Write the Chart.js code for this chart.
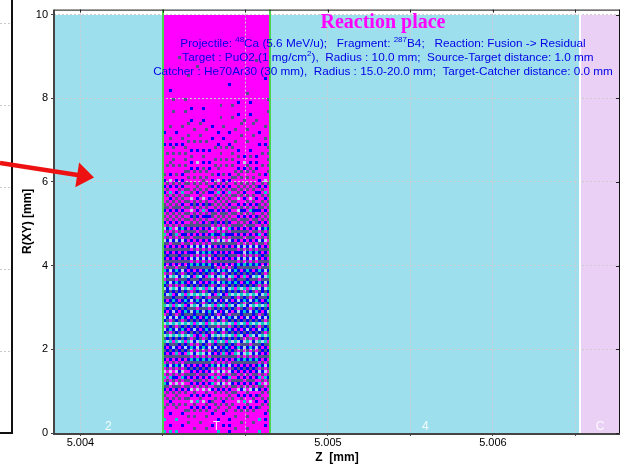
<!DOCTYPE html>
<html lang="en">
<head>
<meta charset="UTF-8">
<title>Reaction place</title>
<script src="https://cdn.jsdelivr.net/npm/chart.js"></script>
<style>
  body { margin: 0; background: #fff; }
  #wrap { width: 629px; height: 467px; }
</style>
</head>
<body>
<div id="wrap"><canvas id="chart" width="629" height="467"></canvas></div>
<script>
// Z axis [mm]
const zMin = 5.00334, zMax = 5.00677;
const zGrid = [5.0035, 5.004, 5.0045, 5.005, 5.0055, 5.006, 5.0065];
const zLabelAt = [5.0035, 5.005, 5.006];
const zLabels = ['5.004', '5.005', '5.006'];
// R axis [mm]
const rMax = 10.12;
const rTicks = [0, 2, 4, 6, 8, 10];

// materials along Z
const regionNames = ['2', 'T', '4', 'C'];
const regionStart = [5.00334, 5.00400, 5.00465, 5.00653];
const regionEnd   = [5.00400, 5.00465, 5.00653, 5.00677];
const regionTop = 10;

// stopped fragments in the target: share of bins at each count level, per 0.5 mm band of R
const rBandLow = [0, 0.5, 1, 1.5, 2, 2.5, 3, 3.5, 4, 4.5, 5, 5.5, 6, 6.5, 7, 7.5, 8, 8.5, 9, 9.5];
const lowCount  = [0.10, 0.24, 0.30, 0.28, 0.26, 0.25, 0.25, 0.28, 0.32, 0.35, 0.35, 0.32, 0.22, 0.15, 0.10, 0.05, 0.015, 0.01, 0.005, 0];
const midCount  = [0.03, 0.08, 0.18, 0.25, 0.30, 0.30, 0.32, 0.30, 0.25, 0.22, 0.17, 0.11, 0.05, 0.04, 0.02, 0.015, 0.005, 0, 0, 0];
const highCount = [0.01, 0.02, 0.05, 0.10, 0.13, 0.15, 0.14, 0.12, 0.08, 0.04, 0.02, 0.01, 0, 0, 0, 0, 0, 0, 0, 0];
const topCount  = [0, 0.02, 0.07, 0.12, 0.17, 0.17, 0.16, 0.14, 0.10, 0.06, 0.03, 0.015, 0.005, 0, 0, 0, 0, 0, 0, 0];

// styles
const regionColors = ['#9edfed', '#ff00ff', '#9edfed', '#ead0f4'];
const levelColors = ['#b4d2e6', '#00cccc', '#0000ff', '#52528c']; // top, high, mid, low
const zBins = 36, rBins = 140;
const bayer = [
  [0, 32, 8, 40, 2, 34, 10, 42],
  [48, 16, 56, 24, 50, 18, 58, 26],
  [12, 44, 4, 36, 14, 46, 6, 38],
  [60, 28, 52, 20, 62, 30, 54, 22],
  [3, 35, 11, 43, 1, 33, 9, 41],
  [51, 19, 59, 27, 49, 17, 57, 25],
  [15, 47, 7, 39, 13, 45, 5, 37],
  [63, 31, 55, 23, 61, 29, 53, 21]
];

Chart.defaults.font.family = '"Liberation Sans", Arial, sans-serif';
Chart.defaults.color = '#000';

function drawRich(ctx, parts, cx, cy, size, color) {
  const base = size + 'px "Liberation Sans", Arial, sans-serif';
  const small = Math.round(size * 0.7) + 'px "Liberation Sans", Arial, sans-serif';
  let w = 0;
  parts.forEach(p => { ctx.font = p.sup ? small : base; w += ctx.measureText(p.t).width; });
  let x = cx - w / 2;
  ctx.fillStyle = color;
  ctx.textBaseline = 'middle';
  ctx.textAlign = 'left';
  parts.forEach(p => {
    ctx.font = p.sup ? small : base;
    ctx.fillText(p.t, x, p.sup ? cy - size * 0.35 : cy);
    x += ctx.measureText(p.t).width;
  });
}

// ordered-dither thresholds: one decides if a bin is filled, the other its count level
function fillThreshold(r, c) {
  const br = Math.floor(r / 8), bc = Math.floor(c / 8);
  return (bayer[(r + 3 * bc + 5 * br) % 8][(c + 5 * br + 2 * bc) % 8] + 0.5) / 64;
}
function levelThreshold(r, c) {
  const br = Math.floor(r / 8), bc = Math.floor(c / 8);
  return (bayer[(c + 2 * r + 3 * br) % 8][(3 * r + c + 4 * bc + br) % 8] + 0.5) / 64;
}

const layers = {
  id: 'layers',
  beforeDraw(chart) {
    const {ctx, scales: {x, y}} = chart;
    const yT = Math.round(y.getPixelForValue(regionTop)), yB = Math.round(y.getPixelForValue(0));
    regionNames.forEach((n, i) => {
      const x0 = Math.round(x.getPixelForValue(regionStart[i]));
      const x1 = Math.round(x.getPixelForValue(regionEnd[i]));
      ctx.fillStyle = regionColors[i];
      ctx.fillRect(x0, yT, x1 - x0, yB - yT);
    });
  },
  beforeDatasetsDraw(chart) {
    const {ctx, scales: {x, y}} = chart;
    const z0 = regionStart[1], dz = (regionEnd[1] - regionStart[1]) / zBins;
    const dr = regionTop / rBins;
    for (let r = 0; r < rBins; r++) {
      const rv = (r + 0.5) * dr;
      let b = 0;
      rBandLow.forEach((v, i) => { if (rv >= v) b = i; });
      const total = topCount[b] + highCount[b] + midCount[b] + lowCount[b];
      if (total <= 0) continue;
      const cum = [topCount[b] / total];
      cum.push(cum[0] + highCount[b] / total);
      cum.push(cum[1] + midCount[b] / total);
      cum.push(1.01);
      const yA = Math.round(y.getPixelForValue((r + 1) * dr));
      const yB = Math.round(y.getPixelForValue(r * dr));
      for (let c = 0; c < zBins; c++) {
        if (fillThreshold(r, c) >= total) continue;
        const t = levelThreshold(r, c);
        const lvl = cum.findIndex(v => t < v);
        const xA = Math.round(x.getPixelForValue(z0 + c * dz));
        const xB = Math.round(x.getPixelForValue(z0 + (c + 1) * dz));
        ctx.fillStyle = levelColors[lvl];
        ctx.fillRect(xA, yA, xB - xA, yB - yA);
      }
    }
  },
  afterDraw(chart) {
    const {ctx, chartArea: a, scales: {x, y}} = chart;
    ctx.save();
    // material boundaries
    [regionStart[1], regionEnd[1]].forEach(v => {
      ctx.fillStyle = '#4cd44c';
      ctx.fillRect(Math.round(x.getPixelForValue(v)) - 1, a.top, 2, a.bottom - a.top);
    });
    ctx.fillStyle = '#ffffff';
    ctx.fillRect(Math.round(x.getPixelForValue(regionStart[3])) - 1, a.top, 2, a.bottom - a.top);
    // material names
    ctx.font = '12px "Liberation Sans", Arial, sans-serif';
    ctx.textAlign = 'center';
    ctx.textBaseline = 'middle';
    regionNames.forEach((n, i) => {
      const cx = (x.getPixelForValue(regionStart[i]) + x.getPixelForValue(regionEnd[i])) / 2;
      ctx.fillStyle = 'rgba(255,255,255,0.9)';
      ctx.fillText(n, cx, a.bottom - 6);
    });
    // frame
    ctx.fillStyle = '#111';
    ctx.fillRect(a.left, a.top, a.right - a.left, 1);
    ctx.fillRect(a.right - 1, a.top, 1, a.bottom - a.top);
    ctx.fillStyle = '#454545';
    ctx.fillRect(a.left - 1, a.top, 2, a.bottom - a.top + 2);
    ctx.fillRect(a.left - 1, a.bottom, a.right - a.left + 1, 2);
    // inner ticks on top and right
    ctx.fillStyle = '#222';
    zGrid.forEach(v => ctx.fillRect(Math.round(x.getPixelForValue(v)), a.top, 1, 3));
    rTicks.forEach(v => ctx.fillRect(a.right - 4, Math.round(y.getPixelForValue(v)), 3, 1));
    // captions
    ctx.font = 'bold 20px "Liberation Serif", "Times New Roman", serif';
    ctx.fillStyle = '#ff00ff';
    ctx.textAlign = 'center';
    ctx.textBaseline = 'middle';
    ctx.fillText('Reaction place', 383, 23);
    const blue = '#0000e8';
    const fs = 11.75;
    drawRich(ctx, [{t: 'Projectile: '}, {t: '48', sup: true}, {t: 'Ca (5.6 MeV/u);   Fragment: '},
      {t: '287', sup: true}, {t: 'B4;   Reaction: Fusion -> Residual'}], 383, 44, fs, blue);
    drawRich(ctx, [{t: 'Target : PuO2 (1 mg/cm'}, {t: '2', sup: true},
      {t: '),  Radius : 10.0 mm;  Source-Target distance: 1.0 mm'}], 388, 58, fs, blue);
    drawRich(ctx, [{t: 'Catcher : He70Ar30 (30 mm),  Radius : 15.0-20.0 mm;  Target-Catcher distance: 0.0 mm'}],
      383, 72, fs, blue);
    // neighbouring panel edge
    ctx.strokeStyle = '#c8c8c8';
    ctx.lineWidth = 1;
    ctx.setLineDash([2, 2]);
    [23, 105, 187, 269, 351].forEach(py => {
      ctx.beginPath(); ctx.moveTo(0, py + 0.5); ctx.lineTo(10, py + 0.5); ctx.stroke();
    });
    ctx.setLineDash([]);
    ctx.fillStyle = '#111';
    ctx.fillRect(11, 0, 2, 434);
    ctx.fillRect(0, 432, 13, 2);
    // red arrow
    const sx = 0, sy = 163, tx = 94, ty = 177.5;
    const ang = Math.atan2(ty - sy, tx - sx);
    const hl = 17, hw = 12.5;
    const bx = tx - hl * Math.cos(ang), by = ty - hl * Math.sin(ang);
    ctx.strokeStyle = '#ee1111';
    ctx.lineWidth = 4.5;
    ctx.beginPath(); ctx.moveTo(sx, sy); ctx.lineTo(bx + 2 * Math.cos(ang), by + 2 * Math.sin(ang)); ctx.stroke();
    ctx.fillStyle = '#ee1111';
    ctx.beginPath();
    ctx.moveTo(tx, ty);
    ctx.lineTo(bx - hw * Math.sin(ang), by + hw * Math.cos(ang));
    ctx.lineTo(bx + hw * Math.sin(ang), by - hw * Math.cos(ang));
    ctx.closePath();
    ctx.fill();
    ctx.restore();
  }
};

new Chart(document.getElementById('chart'), {
  type: 'scatter',
  data: { datasets: [] },
  options: {
    responsive: false,
    animation: false,
    layout: { padding: { left: 0, top: 7, right: 9, bottom: 0 } },
    plugins: { legend: { display: false }, tooltip: { enabled: false } },
    scales: {
      x: {
        type: 'linear',
        min: zMin,
        max: zMax,
        afterFit: s => { s.height = 34; },
        afterBuildTicks: s => { s.ticks = zGrid.map(v => ({ value: v })); },
        ticks: {
          autoSkip: false,
          maxRotation: 0,
          padding: 0,
          font: { size: 11 },
          callback: v => {
            const i = zLabelAt.findIndex(t => Math.abs(t - v) < 1e-7);
            return i < 0 ? '' : zLabels[i];
          }
        },
        grid: { color: '#cdcdcd', tickLength: 3, tickColor: '#444' },
        border: { display: false, dash: [2, 2] },
        title: { display: true, text: 'Z  [mm]', font: { size: 12, weight: 'bold' }, padding: { top: 0, bottom: 2 } }
      },
      y: {
        type: 'linear',
        min: 0,
        max: rMax,
        afterFit: s => { s.width = 54; },
        afterBuildTicks: s => { s.ticks = rTicks.map(v => ({ value: v })); },
        ticks: { padding: 3, font: { size: 11 } },
        grid: { color: '#cdcdcd', tickLength: 3, tickColor: '#444' },
        border: { display: false, dash: [2, 2] },
        title: { display: true, text: 'R(XY) [mm]', font: { size: 12, weight: 'bold' }, padding: { top: 20, bottom: 0 } }
      }
    }
  },
  plugins: [layers]
});
</script>
</body>
</html>
